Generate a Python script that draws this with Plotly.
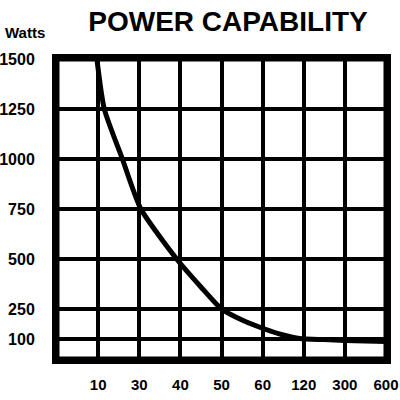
import plotly.graph_objects as go

# x categories (placed at grid columns 1..8) and the watts scale
x_labels = ["10", "30", "40", "50", "60", "120", "300", "600"]
x_positions = [1, 2, 3, 4, 5, 6, 7, 8]
y_ticks = [100, 250, 500, 750, 1000, 1250, 1500]

# power curve (x in column units)
curve_x = [0.97, 1.15, 1.59, 2.04, 2.91, 3.5, 4.0, 4.5, 5.05, 5.5, 5.9, 6.5, 7.0, 7.5, 8.0]
curve_w = [1500, 1250, 1000, 750, 500, 360, 250, 195, 150, 120, 102, 97, 93, 90, 88]

FONT = "Liberation Sans, Arial, sans-serif"

fig = go.Figure(go.Scatter(
    x=curve_x, y=curve_w, mode="lines",
    line=dict(color="black", width=5, shape="spline", smoothing=0.6),
    hoverinfo="skip", showlegend=False,
))

fig.update_layout(
    width=400, height=400,
    margin=dict(l=57, r=14, t=59, b=41),
    paper_bgcolor="white", plot_bgcolor="white",
    font=dict(family=FONT, color="black"),
    title=dict(
        text="<b>POWER CAPABILITY</b>", x=0.57, xanchor="center",
        y=0.948, yanchor="middle", font=dict(size=28, color="black"),
    ),
    xaxis=dict(
        range=[0, 8], tickvals=x_positions, ticktext=[f"<b>{t}</b>" for t in x_labels],
        showgrid=True, gridcolor="black", gridwidth=4,
        showline=True, linecolor="black", linewidth=5, mirror=True,
        zeroline=False, ticks="", ticklabelstandoff=8, automargin=False,
        ticklabeloverflow="allow",
        tickfont=dict(size=15, color="black"), fixedrange=True,
    ),
    yaxis=dict(
        range=[0, 1500], tickvals=y_ticks, ticktext=[f"<b>{v}</b>" for v in y_ticks],
        showgrid=True, gridcolor="black", gridwidth=4,
        showline=True, linecolor="black", linewidth=5, mirror=True,
        zeroline=False, ticks="", ticklabelstandoff=14, automargin=False,
        ticklabeloverflow="allow",
        tickfont=dict(size=16, color="black"), fixedrange=True,
    ),
    annotations=[dict(
        text="<b>Watts</b>", xref="paper", yref="paper",
        x=-0.03, y=1.087, xanchor="right", yanchor="middle",
        showarrow=False, font=dict(size=15, color="black"),
    )],
    # heavy frame round the grid
    shapes=[dict(
        type="rect", xref="paper", yref="paper", x0=0, x1=1, y0=0, y1=1,
        line=dict(color="black", width=5), layer="above",
    )],
)

# the page body has a default 8px margin; drop it so the figure sits at 0,0
fig.write_html(
    "out.html",
    config={"displayModeBar": False},
    post_script="document.body.style.margin='0';",
)
